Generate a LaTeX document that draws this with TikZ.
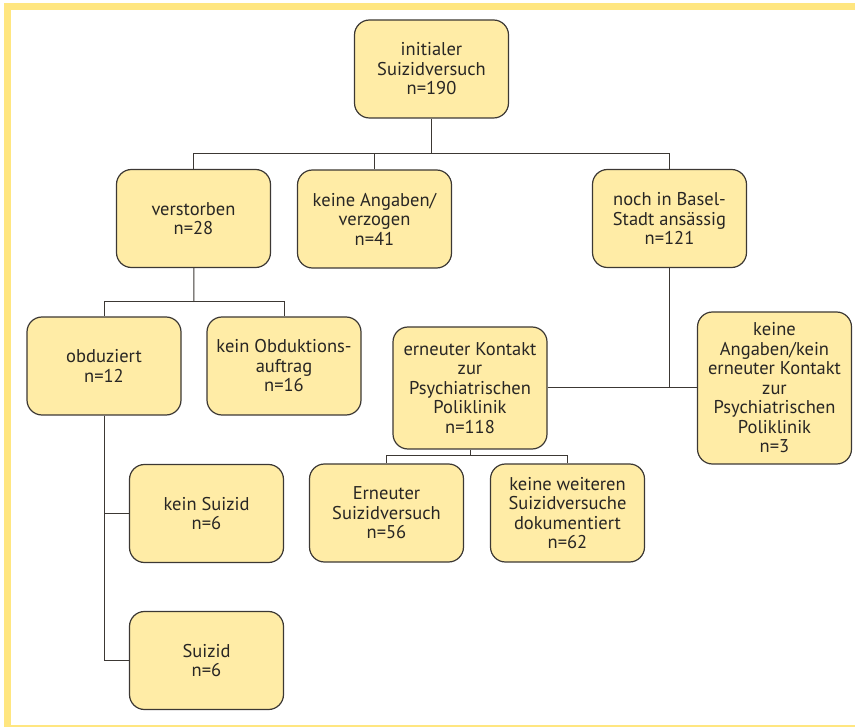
\documentclass[tikz,border=0pt]{standalone}
\usepackage{fontspec}
\setmainfont{PT Sans}
\definecolor{boxfill}{RGB}{255,236,166}
\definecolor{framecol}{RGB}{255,230,128}
\definecolor{linecol}{RGB}{60,56,52}
\definecolor{textcol}{RGB}{40,38,36}
\tikzset{
  box/.style={draw=linecol, line width=1.2pt, fill=boxfill, rounded corners=15pt,
    minimum width=154pt, minimum height=98pt, align=center, text=textcol,
    font=\fontsize{18.5}{19.5}\selectfont, inner sep=1pt},
  conn/.style={draw=linecol, line width=1pt}
}
\begin{document}
\begin{tikzpicture}[x=1pt, y=-1pt]
\clip (0,0) rectangle (855,727);
\draw[framecol, line width=7pt] (7.5,6.5) rectangle (880,728);
% top level
\node (init) [box] at (431.5,69) {initialer\\Suizidversuch\\n=190};
\node (verst) [box] at (193.5,218.5) {verstorben\\n=28};
\node (keine) [box] at (374.5,219) {keine Angaben/\\verzogen\\n=41};
\node (noch) [box] at (669.5,218.5) {noch in Basel-\\Stadt ansässig\\n=121};
% verstorben branch
\node (obd) [box] at (104,366) {obduziert\\n=12};
\node (kob) [box] at (284,366) {kein Obduktions-\\auftrag\\n=16};
\node (ksui) [box] at (206.5,513.5) {kein Suizid\\n=6};
\node (sui) [box] at (206.5,660.5) {Suizid\\n=6};
% Basel branch
\node (ern) [box, minimum height=122pt] at (470,388) {erneuter Kontakt\\zur\\Psychiatrischen\\Poliklinik\\n=118};
\node (kak) [box, minimum height=152pt] at (774.5,388) {keine\\Angaben/kein\\erneuter Kontakt\\zur\\Psychiatrischen\\Poliklinik\\n=3};
\node (esv) [box] at (386.5,513) {Erneuter\\Suizidversuch\\n=56};
\node (kws) [box] at (567.5,513) {keine weiteren\\Suizidversuche\\dokumentiert\\n=62};
% connectors
\coordinate (j1) at (431.5,154);
\coordinate (j2) at (194,302);
\coordinate (j3) at (470,456);
\draw[conn] (init) -- (j1);
\draw[conn] (j1) -| (verst);
\draw[conn] (j1) -| (keine);
\draw[conn] (j1) -| (noch);
\draw[conn] (verst) -- (j2);
\draw[conn] (j2) -| (obd);
\draw[conn] (j2) -| (kob);
\draw[conn] (obd) |- (ksui);
\draw[conn] (obd) |- (sui);
\draw[conn] (noch) -- (noch |- kak);
\draw[conn] (ern) -- (kak);
\draw[conn] (ern) -- (j3);
\draw[conn] (j3) -| (esv);
\draw[conn] (j3) -| (kws);
\end{tikzpicture}
\end{document}
